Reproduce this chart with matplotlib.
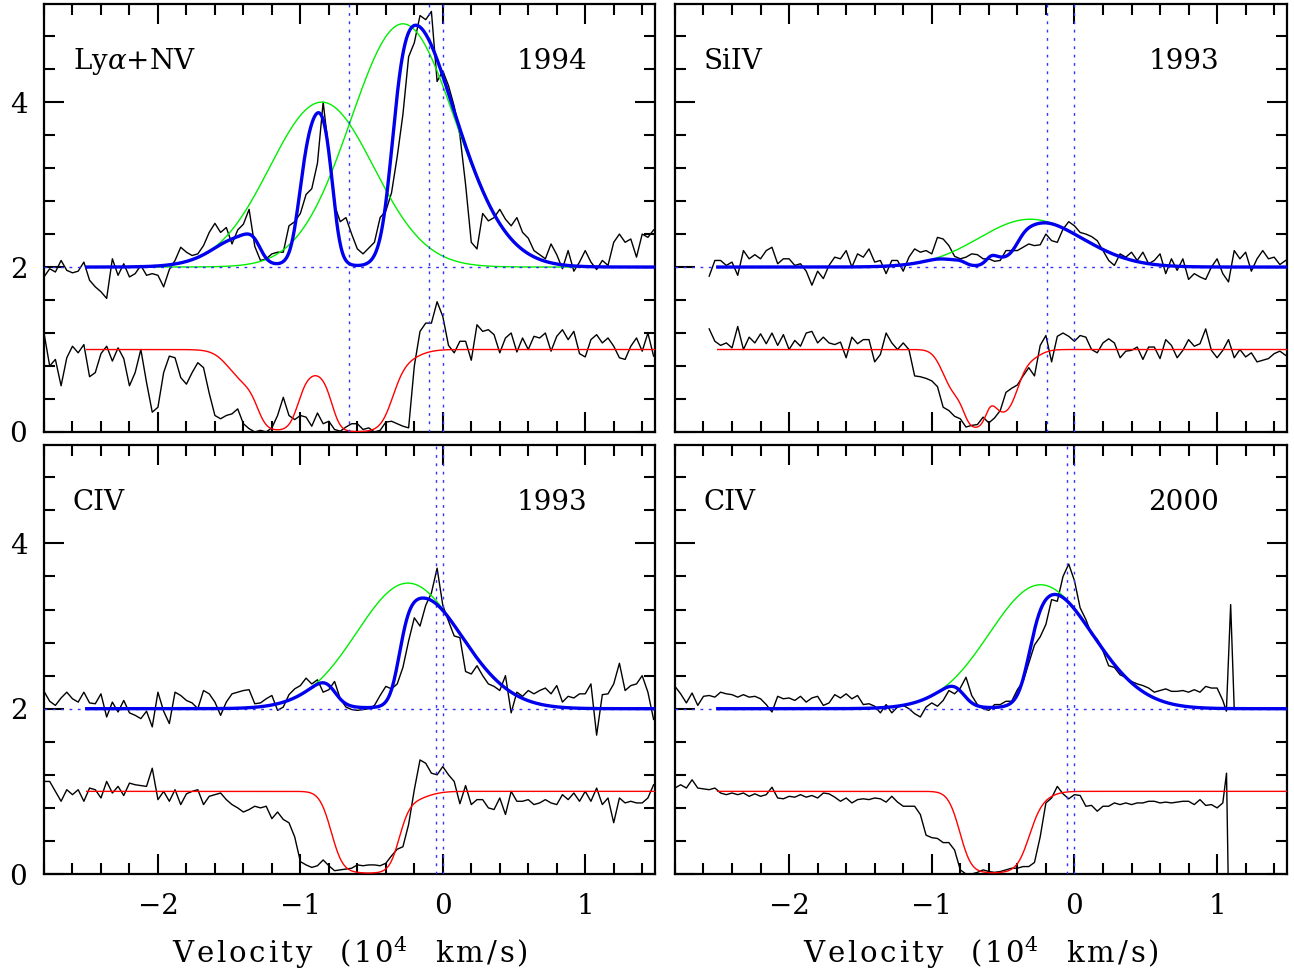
import numpy as np
import matplotlib
matplotlib.use("Agg")
import matplotlib.pyplot as plt
from matplotlib.ticker import MultipleLocator

plt.rcParams['font.family'] = ['DejaVu Serif']
plt.rcParams['mathtext.fontset'] = 'dejavuserif'

DV = 0.04  # velocity step of the spectra (10^4 km/s)

# ---- Ly-alpha + NV, 1994 ----
lya_v0 = -2.80
lya_emission = [
    1.88, 1.98, 1.94, 2.08, 1.96, 1.93, 1.95, 2.06, 1.84, 1.76,
    1.70, 1.62, 2.10, 1.90, 2.04, 1.88, 1.92, 2.02, 1.90, 1.92,
    1.90, 1.76, 1.97, 2.08, 2.24, 2.18, 2.14, 2.16, 2.26, 2.42,
    2.53, 2.42, 2.48, 2.28, 2.45, 2.52, 2.70, 2.25, 2.08, 2.10,
    2.16, 2.18, 2.18, 2.50, 2.55, 2.65, 2.88, 2.95, 3.26, 4.00,
    3.40, 2.75, 2.55, 2.60, 2.40, 2.22, 2.16, 2.23, 2.30, 2.60,
    2.68, 2.90, 3.34, 3.85, 4.55, 4.72, 5.05, 5.00, 5.10, 4.25,
    4.38, 4.20, 3.95, 3.60, 3.00, 2.30, 2.22, 2.65, 2.56, 2.60,
    2.70, 2.58, 2.50, 2.60, 2.42, 2.35, 2.20, 2.15, 2.10, 2.28,
    2.15, 1.98, 2.20, 1.95, 2.06, 2.20, 2.06, 1.97, 2.08, 2.02,
    2.30, 2.40, 2.30, 2.34, 2.12, 2.40, 2.36, 2.45,
]
lya_absorption = [
    1.20, 0.80, 0.88, 0.56, 0.90, 1.04, 0.96, 1.06, 0.67, 0.72,
    0.95, 1.04, 0.86, 1.02, 0.89, 0.56, 0.72, 1.00, 0.60, 0.24,
    0.30, 0.72, 0.92, 0.90, 0.66, 0.58, 0.72, 0.84, 0.78, 0.47,
    0.20, 0.16, 0.20, 0.22, 0.28, 0.10, 0.04, 0.00, 0.02, 0.00,
    0.05, 0.20, 0.42, 0.20, 0.15, 0.20, 0.18, 0.07, 0.23, 0.10,
    0.13, 0.03, 0.01, 0.06, 0.10, 0.10, 0.03, 0.05, 0.00, 0.02,
    0.12, 0.13, 0.10, 0.07, 0.05, 0.80, 1.22, 1.32, 1.32, 1.58,
    1.40, 1.05, 0.96, 1.10, 1.10, 0.87, 1.30, 1.22, 1.24, 1.18,
    0.96, 1.14, 1.20, 0.97, 1.14, 1.00, 1.16, 1.14, 1.20, 0.98,
    1.16, 1.24, 1.12, 1.22, 0.95, 0.91, 1.12, 1.18, 1.08, 1.14,
    1.04, 0.90, 0.88, 1.04, 1.14, 0.98, 1.20, 0.92,
]
# (centre, height, sigma) of the emission gaussians and (centre, tau0, sigma) of the absorbers
lya_lines = [(-0.85, 2.00, 0.365), (-0.28, 2.95, 0.365)]
lya_abs = [(-1.40, 0.25, 0.10),
           (-1.16, 3.0, 0.08), (-1.16, 0.6, 0.18),
           (-0.63, 3.0, 0.08), (-0.63, 0.6, 0.16),
           (-0.52, 2.5, 0.10), (-0.30, 0.12, 0.12)]
lya_marks = [-0.66, -0.10, 0.0]

# ---- SiIV, 1993 ----
siiv_v0 = -2.56
siiv_emission = [
    1.89, 2.08, 2.08, 2.02, 2.06, 1.90, 2.20, 2.10, 2.15, 2.10,
    2.20, 2.24, 2.04, 2.10, 2.10, 2.02, 2.04, 1.95, 1.78, 1.95,
    1.86, 2.02, 2.12, 2.10, 2.20, 2.00, 2.16, 2.12, 2.22, 2.06,
    2.08, 1.92, 2.08, 2.08, 1.95, 2.12, 2.22, 2.18, 2.20, 2.16,
    2.36, 2.34, 2.26, 2.13, 2.10, 2.12, 2.16, 2.15, 2.10, 2.10,
    2.07, 2.08, 2.20, 2.20, 2.20, 2.24, 2.28, 2.26, 2.27, 2.40,
    2.32, 2.30, 2.46, 2.55, 2.50, 2.42, 2.40, 2.37, 2.32, 2.20,
    2.08, 2.02, 2.16, 2.12, 2.18, 2.08, 2.18, 2.04, 2.08, 2.16,
    1.92, 2.10, 1.96, 2.10, 1.85, 1.92, 1.88, 1.85, 2.00, 2.10,
    1.92, 1.82, 2.20, 2.10, 2.18, 1.95, 2.10, 2.20, 2.10, 2.12,
    2.03, 2.08,
]
siiv_absorption = [
    1.25, 1.10, 1.05, 1.08, 1.02, 1.28, 1.00, 1.15, 1.08, 1.19,
    1.07, 1.20, 1.05, 1.18, 1.00, 1.11, 1.04, 1.20, 1.22, 1.08,
    1.15, 1.08, 1.06, 1.09, 0.90, 1.15, 1.07, 1.12, 1.12, 0.85,
    0.94, 1.20, 1.08, 1.00, 1.08, 1.00, 0.68, 0.67, 0.65, 0.62,
    0.55, 0.30, 0.26, 0.19, 0.16, 0.06, 0.08, 0.09, 0.18, 0.11,
    0.17, 0.26, 0.48, 0.53, 0.57, 0.68, 0.78, 0.68, 1.05, 1.17,
    0.85, 1.16, 1.20, 1.16, 1.10, 1.17, 1.15, 1.00, 0.96, 1.08,
    1.13, 1.08, 0.90, 0.98, 0.99, 1.03, 0.88, 1.03, 1.03, 0.89,
    1.12, 1.05, 0.90, 0.99, 1.12, 1.04, 1.07, 1.25, 0.99, 0.90,
    0.99, 1.12, 0.90, 1.00, 0.91, 0.96, 0.85, 0.87, 0.89, 0.95,
    0.98, 0.93,
]
siiv_lines = [(-0.31, 0.58, 0.36)]
siiv_abs = [(-0.82, 0.75, 0.08), (-0.69, 2.6, 0.055), (-0.50, 1.4, 0.075),
            (-0.33, 0.12, 0.08)]
siiv_marks = [-0.19, 0.0]

# ---- CIV, 1993 ----
civ93_v0 = -2.80
civ93_emission = [
    2.21, 2.09, 2.04, 2.13, 2.20, 2.12, 2.08, 2.20, 2.07, 2.06,
    2.18, 1.90, 2.08, 1.96, 2.10, 1.95, 1.92, 1.88, 1.97, 1.78,
    2.20, 1.97, 1.82, 2.20, 2.16, 2.10, 2.07, 2.00, 2.22, 2.18,
    2.08, 1.92, 2.08, 2.18, 2.20, 2.22, 2.23, 2.06, 2.07, 2.12,
    2.16, 1.98, 2.02, 2.17, 2.24, 2.28, 2.37, 2.30, 2.35, 2.20,
    2.23, 2.33, 2.12, 2.02, 1.99, 1.98, 1.99, 2.00, 2.04, 2.16,
    2.27, 2.24, 2.30, 2.50, 2.82, 3.10, 3.00, 3.25, 3.40, 3.70,
    3.25, 3.06, 2.88, 2.86, 2.45, 2.42, 2.52, 2.40, 2.30, 2.27,
    2.22, 2.40, 1.95, 2.20, 2.15, 2.22, 2.18, 2.22, 2.25, 2.18,
    2.28, 2.08, 2.15, 2.13, 2.18, 2.18, 2.30, 1.68, 2.17, 2.18,
    2.30, 2.55, 2.22, 2.28, 2.30, 2.40, 2.20, 1.87,
]
civ93_absorption = [
    1.12, 1.12, 1.00, 0.88, 1.02, 0.96, 1.02, 0.88, 1.04, 1.02,
    0.92, 1.12, 0.98, 1.06, 0.95, 1.10, 1.08, 1.07, 1.06, 1.28,
    0.90, 1.00, 0.88, 1.02, 0.84, 0.97, 1.00, 1.02, 0.84, 0.94,
    0.96, 0.98, 0.90, 0.84, 0.80, 0.75, 0.78, 0.82, 0.80, 0.82,
    0.67, 0.75, 0.66, 0.62, 0.45, 0.15, 0.11, 0.08, 0.10, 0.17,
    0.10, 0.04, 0.05, 0.06, 0.07, 0.11, 0.10, 0.11, 0.11, 0.10,
    0.13, 0.22, 0.30, 0.33, 0.60, 1.02, 1.38, 1.34, 1.22, 1.20,
    1.30, 1.20, 1.12, 0.85, 1.07, 0.84, 0.90, 0.90, 0.80, 0.78,
    0.92, 0.72, 1.00, 0.88, 0.88, 0.90, 0.84, 0.86, 0.90, 0.86,
    0.84, 0.96, 0.90, 0.98, 0.88, 1.00, 0.88, 1.04, 0.84, 0.92,
    0.62, 0.92, 0.86, 0.88, 0.86, 0.86, 0.92, 1.08,
]
civ93_lines = [(-0.245, 1.52, 0.36)]
civ93_abs = [(-0.61, 3.0, 0.10), (-0.46, 3.0, 0.09), (-0.25, 0.12, 0.12)]
civ_marks = [-0.05, 0.0]

# ---- CIV, 2000 ----
civ00_v0 = -2.80
civ00_emission = [
    2.27, 2.18, 2.07, 2.19, 2.04, 2.15, 2.16, 2.14, 2.20, 2.18,
    2.17, 2.14, 2.17, 2.14, 2.15, 2.12, 2.05, 1.96, 2.15, 2.12,
    2.13, 2.10, 2.15, 2.08, 2.13, 2.15, 2.04, 2.07, 2.17, 2.13,
    2.18, 2.12, 2.16, 2.05, 2.06, 2.03, 1.95, 2.05, 1.95, 2.02,
    2.04, 2.00, 1.94, 1.90, 2.02, 2.07, 2.03, 2.10, 2.22, 2.18,
    2.25, 2.38, 2.16, 2.05, 2.00, 1.98, 2.05, 2.05, 2.09, 2.09,
    2.23, 2.33, 2.55, 2.77, 2.87, 3.02, 3.32, 3.30, 3.60, 3.75,
    3.55, 3.22, 3.08, 2.90, 2.84, 2.70, 2.52, 2.50, 2.41, 2.38,
    2.33, 2.30, 2.28, 2.25, 2.20, 2.22, 2.24, 2.21, 2.21, 2.22,
    2.20, 2.23, 2.20, 2.27, 2.25, 2.25, 2.10,
]
civ00_emission_end_v = [1.065, 1.095, 1.12]
civ00_emission_end = [1.97, 3.26, 2.00]
civ00_absorption = [
    1.04, 1.08, 1.04, 1.14, 1.04, 1.03, 1.02, 1.04, 0.98, 0.96,
    0.98, 0.96, 0.98, 0.94, 0.97, 0.94, 0.96, 1.05, 0.92, 0.91,
    0.94, 0.93, 0.96, 0.93, 0.95, 0.92, 0.98, 0.97, 0.93, 0.88,
    0.92, 0.86, 0.90, 0.91, 0.90, 0.92, 0.91, 0.87, 0.94, 0.87,
    0.82, 0.82, 0.82, 0.72, 0.47, 0.44, 0.43, 0.38, 0.38, 0.29,
    0.05, 0.00, 0.00, 0.02, 0.05, 0.03, 0.02, 0.03, 0.05, 0.07,
    0.07, 0.09, 0.09, 0.14, 0.45, 0.86, 0.92, 1.06, 0.97, 0.91,
    0.96, 0.95, 0.82, 0.83, 0.76, 0.82, 0.82, 0.86, 0.84, 0.86,
    0.84, 0.86, 0.86, 0.88, 0.88, 0.86, 0.87, 0.86, 0.87, 0.88,
    0.88, 0.84, 0.90, 0.83, 0.84, 0.80, 0.86,
]
civ00_absorption_end_v = [1.066, 1.08]
civ00_absorption_end = [1.22, -0.30]
civ00_lines = [(-0.237, 1.50, 0.36)]
civ00_abs = [(-0.63, 3.0, 0.10), (-0.48, 2.5, 0.10), (-0.28, 0.10, 0.10)]


def gauss(v, c, a, s):
    return a * np.exp(-0.5 * ((v - c) / s) ** 2)


def spectrum(v0, flux, end_v=None, end_flux=None):
    v = v0 + DV * np.arange(len(flux))
    f = np.asarray(flux, dtype=float)
    if end_v is not None:
        v = np.concatenate([v, end_v])
        f = np.concatenate([f, end_flux])
    return v, f


def draw_panel(ax, hi, lo, lines, absorbers, marks, name, year):
    ax.plot(*hi, color='black', lw=1.0, zorder=2)
    ax.plot(*lo, color='black', lw=1.0, zorder=2)

    vm = np.linspace(-2.5, 1.5, 1200)
    tau = sum(gauss(vm, *a) for a in absorbers)
    trans = np.exp(-tau)
    excess = np.zeros_like(vm)
    for ln in lines:
        g = gauss(vm, *ln)
        excess += g
        ax.plot(vm, 2 + g, color='#00ee00', lw=1.0, zorder=3)
    ax.plot(vm, trans, color='#ff0000', lw=1.0, zorder=3)

    dots = dict(color='#3030ff', lw=1.0, linestyle=(0, (2, 4)), zorder=4)
    ax.axhline(2.0, **dots)
    for m in marks:
        ax.axvline(m, **dots)

    ax.plot(vm, 2 + excess * trans, color='#0000ee', lw=2.4, zorder=5)

    ax.text(0.047, 0.865, name, transform=ax.transAxes, fontsize=20,
            ha='left', va='center')
    ax.text(0.889, 0.865, year, transform=ax.transAxes, fontsize=20,
            ha='right', va='center')


def style_axes(ax, xlabels, ylabels):
    ax.set_xlim(-2.8, 1.49)
    ax.set_ylim(0, 5.19)
    ax.xaxis.set_major_locator(MultipleLocator(1))
    ax.xaxis.set_minor_locator(MultipleLocator(0.2))
    ax.yaxis.set_major_locator(MultipleLocator(2))
    ax.yaxis.set_minor_locator(MultipleLocator(0.4))
    ax.tick_params(which='both', direction='in', top=True, right=True,
                   width=1.5, labelsize=20)
    ax.tick_params(which='major', length=14.5)
    ax.tick_params(which='minor', length=8)
    ax.tick_params(axis='x', pad=14)
    ax.tick_params(axis='y', pad=12)
    ax.tick_params(labelbottom=xlabels, labelleft=ylabels)
    for sp in ax.spines.values():
        sp.set_linewidth(1.6)


fig = plt.figure(figsize=(12.94, 9.76), dpi=100)
ax_tl = fig.add_axes([0.0340, 0.5574, 0.4722, 0.4385])
ax_tr = fig.add_axes([0.5216, 0.5574, 0.4730, 0.4385])
ax_bl = fig.add_axes([0.0340, 0.1045, 0.4722, 0.4395])
ax_br = fig.add_axes([0.5216, 0.1045, 0.4730, 0.4395])

draw_panel(ax_tl, spectrum(lya_v0, lya_emission), spectrum(lya_v0, lya_absorption),
           lya_lines, lya_abs, lya_marks, r'Ly$\alpha$+NV', '1994')
draw_panel(ax_tr, spectrum(siiv_v0, siiv_emission), spectrum(siiv_v0, siiv_absorption),
           siiv_lines, siiv_abs, siiv_marks, 'SiIV', '1993')
draw_panel(ax_bl, spectrum(civ93_v0, civ93_emission), spectrum(civ93_v0, civ93_absorption),
           civ93_lines, civ93_abs, civ_marks, 'CIV', '1993')
draw_panel(ax_br,
           spectrum(civ00_v0, civ00_emission, civ00_emission_end_v, civ00_emission_end),
           spectrum(civ00_v0, civ00_absorption, civ00_absorption_end_v, civ00_absorption_end),
           civ00_lines, civ00_abs, civ_marks, 'CIV', '2000')

style_axes(ax_tl, False, True)
style_axes(ax_tr, False, False)
style_axes(ax_bl, True, True)
style_axes(ax_br, True, False)

# letter-spaced axis title under each column
hs = '\u200a'
xtitle = (hs.join('Velocity') + '   (' + hs + '1' + hs + '0$^4$   '
          + hs.join('km/s)'))
for xc in (349.5 / 1294, 981 / 1294):
    fig.text(xc, 1 - 953 / 976, xtitle, fontsize=21, ha='center', va='center')

fig.savefig('out.png', dpi=100)
